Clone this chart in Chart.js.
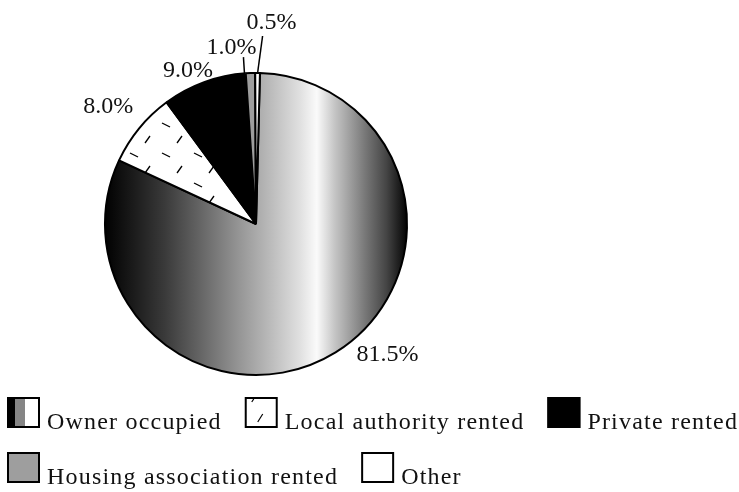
<!DOCTYPE html>
<html>
<head>
<meta charset="utf-8">
<script src="https://cdn.jsdelivr.net/npm/chart.js@4/dist/chart.umd.min.js"></script>
<style>
  html, body { margin: 0; padding: 0; background: #fff; }
  #wrap { position: absolute; left: 0; top: 0; width: 739px; height: 492px; }
</style>
</head>
<body>
<div id="wrap"><canvas id="c" width="739" height="492"></canvas></div>
<script>
// ---- data ----
const categories = ['Owner occupied', 'Local authority rented', 'Private rented', 'Housing association rented', 'Other'];
const shares = [81.5, 8.0, 9.0, 1.0, 0.5];
const valueLabels = shares.map(v => v.toFixed(1) + '%');

// ---- styles ----
const labelOffsets = [[21, 9], [-56, -15], [-41, -5], [-44, -19], [-11, -44]];
const leaderLines = [null, null, null, [[-6, 0], [-7, -16]], [[0, 0], [5, -37]]];
const legendRows = [[0, 1, 2], [3, 4]];
const labelFont = '24px "Liberation Serif", "Times New Roman", serif';

function makeHatch() {
  const t = document.createElement('canvas');
  t.width = 32; t.height = 30;
  const g = t.getContext('2d');
  g.fillStyle = '#fff'; g.fillRect(0, 0, 32, 30);
  g.strokeStyle = '#000'; g.lineWidth = 1.3;
  g.beginPath(); g.moveTo(2, 3); g.lineTo(10, 7); g.stroke();
  g.beginPath(); g.moveTo(17, 23); g.lineTo(22, 16); g.stroke();
  return document.getElementById('c').getContext('2d').createPattern(t, 'repeat');
}
const hatch = makeHatch();

function ownerGradient(chart) {
  const a = chart.chartArea;
  if (!a) return '#888';
  const g = chart.ctx.createLinearGradient(a.left, 0, a.right, 0);
  g.addColorStop(0, '#000');
  g.addColorStop(0.1, '#1c1c1c');
  g.addColorStop(0.2, '#3a3a3a');
  g.addColorStop(0.32, '#666');
  g.addColorStop(0.43, '#909090');
  g.addColorStop(0.54, '#b8b8b8');
  g.addColorStop(0.645, '#e0e0e0');
  g.addColorStop(0.7, '#fafafa');
  g.addColorStop(0.76, '#c4c4c4');
  g.addColorStop(0.86, '#777');
  g.addColorStop(0.93, '#444');
  g.addColorStop(1, '#000');
  return g;
}

const fills = [null, hatch, '#000', '#9e9e9e', '#fff'];

const labelPlugin = {
  id: 'sliceLabels',
  afterDatasetsDraw(chart) {
    const ctx = chart.ctx;
    const meta = chart.getDatasetMeta(0);
    ctx.save();
    ctx.font = labelFont;
    ctx.fillStyle = '#111';
    ctx.textBaseline = 'alphabetic';
    ctx.textAlign = 'left';
    meta.data.forEach((arc, i) => {
      const p = arc.getProps(['x', 'y', 'startAngle', 'endAngle', 'outerRadius'], true);
      const mid = (p.startAngle + p.endAngle) / 2;
      const ax = p.x + Math.cos(mid) * p.outerRadius;
      const ay = p.y + Math.sin(mid) * p.outerRadius;
      const ll = leaderLines[i];
      if (ll) {
        ctx.strokeStyle = '#000'; ctx.lineWidth = 1.5;
        ctx.beginPath();
        ctx.moveTo(ax + ll[0][0], ay + ll[0][1]);
        ctx.lineTo(ax + ll[1][0], ay + ll[1][1]);
        ctx.stroke();
      }
      ctx.fillText(valueLabels[i], ax + labelOffsets[i][0], ay + labelOffsets[i][1]);
    });
    ctx.restore();
  }
};

function drawIcon(ctx, i, x, y, w, h) {
  ctx.save();
  ctx.fillStyle = '#fff';
  ctx.fillRect(x, y, w, h);
  if (i === 0) {
    ctx.fillStyle = '#000'; ctx.fillRect(x, y, 8, h);
    ctx.fillStyle = '#858585'; ctx.fillRect(x + 8, y, 10, h);
  } else if (i === 1) {
    ctx.strokeStyle = '#000'; ctx.lineWidth = 1.2;
    ctx.beginPath(); ctx.moveTo(x + 13, y + 25); ctx.lineTo(x + 18, y + 17); ctx.stroke();
    ctx.beginPath(); ctx.moveTo(x + 7, y + 5); ctx.lineTo(x + 9, y + 2); ctx.stroke();
  } else if (i === 2) {
    ctx.fillStyle = '#000'; ctx.fillRect(x, y, w, h);
  } else if (i === 3) {
    ctx.fillStyle = '#9e9e9e'; ctx.fillRect(x, y, w, h);
  }
  ctx.strokeStyle = '#000'; ctx.lineWidth = 2;
  ctx.strokeRect(x + 1, y + 1, w - 2, h - 2);
  ctx.restore();
}

const legendPlugin = {
  id: 'customLegend',
  afterDraw(chart) {
    const ctx = chart.ctx;
    ctx.save();
    ctx.font = labelFont;
    if ('letterSpacing' in ctx) ctx.letterSpacing = '1.2px';
    ctx.fillStyle = '#111';
    ctx.textBaseline = 'alphabetic';
    const rowTops = [397, 452];
    legendRows.forEach((row, r) => {
      let x = 7;
      const top = rowTops[r];
      row.forEach(i => {
        drawIcon(ctx, i, x, top, 33, 31);
        const tx = x + 40;
        ctx.fillText(categories[i], tx, top + 32);
        x = tx + ctx.measureText(categories[i]).width + 23;
      });
    });
    ctx.restore();
  }
};

new Chart(document.getElementById('c'), {
  type: 'pie',
  data: {
    labels: categories,
    datasets: [{
      data: shares,
      backgroundColor: (c) => c.dataIndex === 0 ? ownerGradient(c.chart) : fills[c.dataIndex],
      borderColor: '#000',
      borderWidth: 2
    }]
  },
  options: {
    responsive: false,
    animation: false,
    rotation: 1.5,
    layout: { padding: { left: 104, top: 72, right: 331, bottom: 116 } },
    plugins: { legend: { display: false }, tooltip: { enabled: false } }
  },
  plugins: [labelPlugin, legendPlugin]
});
</script>
</body>
</html>
